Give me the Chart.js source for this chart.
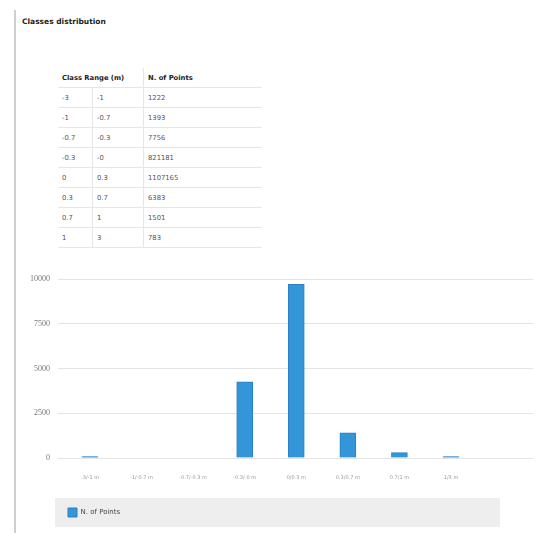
<!DOCTYPE html>
<html>
<head>
<meta charset="utf-8">
<script src="https://cdn.jsdelivr.net/npm/chart.js@4/dist/chart.umd.min.js"></script>
<style>
  body { margin: 0; width: 556px; height: 533px; background: #fff; position: relative; overflow: hidden; font-family: "DejaVu Sans", sans-serif; }
  #rule { position: absolute; left: 14px; top: 10px; width: 2px; height: 523px; background: #cfcfcf; }
  #title { position: absolute; left: 22px; top: 17px; font-size: 7.5px; font-weight: bold; color: #222; }
  table { position: absolute; left: 58px; top: 68px; width: 204px; border-collapse: collapse; font-size: 6.8px; color: #555; }
  td, th { height: 19px; padding: 0 4px; text-align: left; border-bottom: 1px solid #e6e6e6; color: #555; }
  th { font-weight: bold; color: #222; }
  td.c1, td.c2 { border-right: 1px solid #e6e6e6; }
  #wrap { position: absolute; left: 0; top: 250px; width: 556px; height: 283px; }
</style>
</head>
<body>
<div id="rule"></div>
<div id="title">Classes distribution</div>
<table id="tbl"></table>
<div id="wrap"><canvas id="chart"></canvas></div>
<script>
// table
const rangeFrom = ['-3', '-1', '-0.7', '-0.3', '0', '0.3', '0.7', '1'];
const rangeTo = ['-1', '-0.7', '-0.3', '-0', '0.3', '0.7', '1', '3'];
const tablePoints = ['1222', '1393', '7756', '821181', '1107165', '6383', '1501', '783'];

// chart
const xLabels = ['-3/-1 m', '-1/-0.7 m', '-0.7/-0.3 m', '-0.3/-0 m', '0/0.3 m', '0.3/0.7 m', '0.7/1 m', '1/3 m'];
const barValues = [80, 0, 0, 4250, 9700, 1400, 300, 80];
const yTicks = [0, 2500, 5000, 7500, 10000];

const tbl = document.getElementById('tbl');
let html = '<tr><th colspan="2" style="border-right:1px solid #e6e6e6">Class Range (m)</th><th>N. of Points</th></tr>';
rangeFrom.forEach((f, i) => {
    html += '<tr><td class="c1" style="width:26px">' + f + '</td><td class="c2" style="width:42px">' + rangeTo[i] + '</td><td>' + tablePoints[i] + '</td></tr>';
});
tbl.innerHTML = html;

const legendBg = {
    id: 'legendBg',
    beforeDraw(chart) {
        const lg = chart.legend;
        const ctx = chart.ctx;
        ctx.save();
        ctx.fillStyle = '#eeeeee';
        ctx.fillRect(55, lg.top, 445, lg.bottom - lg.top);
        ctx.restore();
    }
};

const ctx = document.getElementById('chart');
new Chart(ctx, {
    type: 'bar',
    data: {
        datasets: [{
            label: 'N. of Points',
            data: barValues.map((v, i) => ({ x: i, y: v })),
            backgroundColor: '#3396d8',
            borderColor: '#2a80c2',
            borderWidth: 1,
            barThickness: 16
        }]
    },
    options: {
        responsive: true,
        maintainAspectRatio: false,
        animation: false,
        layout: { padding: { top: 29, right: 23, bottom: 6, left: 0 } },
        scales: {
            x: {
                type: 'linear',
                offset: false,
                min: -0.62,
                max: 8.59,
                afterBuildTicks: axis => { axis.ticks = xLabels.map((_, i) => ({ value: i })); },
                afterFit: axis => { axis.height = 40; },
                grid: { display: false },
                border: { display: false },
                ticks: {
                    autoSkip: false,
                    maxRotation: 0,
                    padding: 9,
                    color: '#999',
                    font: { family: 'DejaVu Sans', size: 5 },
                    callback: v => xLabels[v] || ''
                }
            },
            y: {
                min: 0,
                max: 10000,
                afterBuildTicks: axis => { axis.ticks = yTicks.map(v => ({ value: v })); },
                afterFit: axis => { axis.width = 58; },
                grid: { color: '#e4e4e4', drawTicks: false },
                border: { display: false },
                ticks: {
                    padding: 8,
                    color: '#777',
                    font: { family: 'Liberation Serif', size: 8 },
                    callback: v => String(v)
                }
            }
        },
        plugins: {
            legend: {
                position: 'bottom',
                align: 'start',
                fullSize: false,
                labels: {
                    boxWidth: 9,
                    boxHeight: 9,
                    padding: 10,
                    color: '#444',
                    font: { family: 'DejaVu Sans', size: 7 }
                }
            },
            tooltip: { enabled: false }
        }
    },
    plugins: [legendBg]
});
</script>
</body>
</html>
